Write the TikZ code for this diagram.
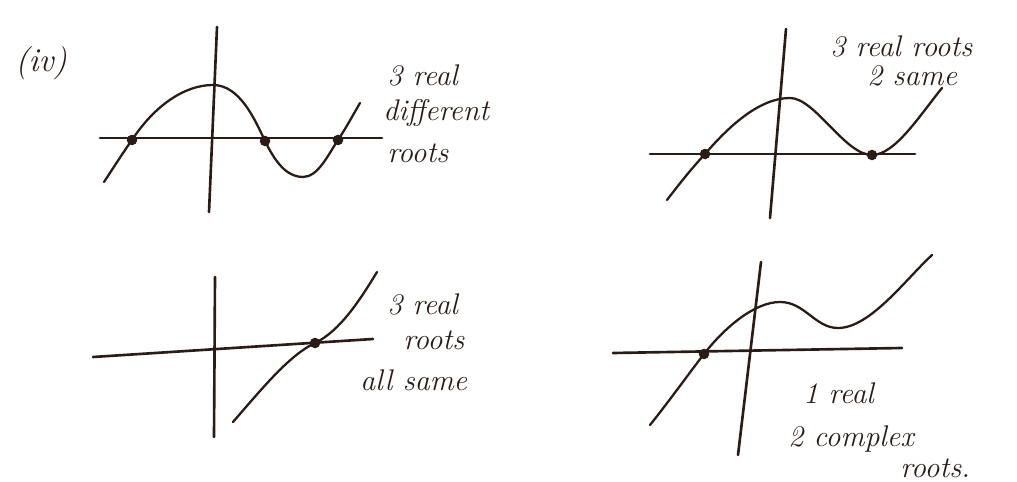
\documentclass[tikz,border=0pt]{standalone}
\usepackage{xcolor}
\definecolor{ink}{RGB}{42,28,20}

\begin{document}
\begin{tikzpicture}[x=0.02cm,y=-0.02cm,line cap=round,color=ink,
  axis/.style={line width=1.5pt},
  curve/.style={line width=1.3pt},
  root/.style={circle,fill=ink,inner sep=0pt,minimum size=6pt},
  note/.style={anchor=base west,inner sep=0pt,font=\fontsize{17}{21}\selectfont\itshape}]
\useasboundingbox (0,0) rectangle (1017,482);
% label of the part
\node[note,font=\fontsize{19}{23}\selectfont\itshape] (part) at (15,72) {(iv)};

% top left: three different roots
\draw[axis] (100,138) -- (382,138);
\draw[axis] (217,27) -- (209,212);
\node[root] (ra) at (132,140) {};
\node[root] (rb) at (265,141) {};
\node[root] (rc) at (338,140) {};
\draw[curve] (104,182) .. controls (112,170) and (122,154) .. (ra.center)
  .. controls (155,105) and (185,85) .. (213,85)
  .. controls (240,85) and (255,120) .. (rb.center)
  .. controls (278,168) and (290,177) .. (303,177)
  .. controls (318,177) and (328,155) .. (rc.center)
  .. controls (346,128) and (353,115) .. (360,103);
\node[note] (ta) at (387,86) {3 real};
\node[note] (tb) at (383,121) {different};
\node[note] (tc) at (387,163) {roots};

% top right: two roots the same
\draw[axis] (650,154) -- (915,154);
\draw[axis] (786,29) -- (770,218);
\node[root] (rd) at (705,154) {};
\node[root] (re) at (872,155) {};
\draw[curve] (667,200) .. controls (680,183) and (692,168) .. (rd.center)
  .. controls (730,125) and (760,98) .. (790,98)
  .. controls (815,98) and (845,155) .. (re.center)
  .. controls (895,155) and (920,115) .. (942,88);
\node[note] (td) at (830,57) {3 real roots};
\node[note] (te) at (867,86) {2 same};

% bottom left: all roots the same
\draw[axis] (93,357) -- (373,339);
\draw[axis] (215,277) -- (214,437);
\node[root] (rf) at (315,343) {};
\draw[curve] (233,422) .. controls (265,385) and (290,355) .. (rf.center)
  .. controls (340,331) and (360,300) .. (377,272);
\node[note] (tf) at (387,315) {3 real};
\node[note] (tg) at (403,350) {roots};
\node[note] (th) at (360,391) {all same};

% bottom right: one real root
\draw[axis] (613,353) -- (902,348);
\draw[axis] (761,262) -- (738,455);
\node[root] (rg) at (704,354) {};
\draw[curve] (650,425) .. controls (670,400) and (690,372) .. (rg.center)
  .. controls (725,327) and (755,302) .. (780,302)
  .. controls (805,302) and (815,328) .. (838,328)
  .. controls (870,328) and (905,280) .. (932,255);
\node[note] (ti) at (803,404) {1 real};
\node[note] (tj) at (788,447) {2 complex};
\node[note] (tk) at (900,478) {roots.};
\end{tikzpicture}
\end{document}
